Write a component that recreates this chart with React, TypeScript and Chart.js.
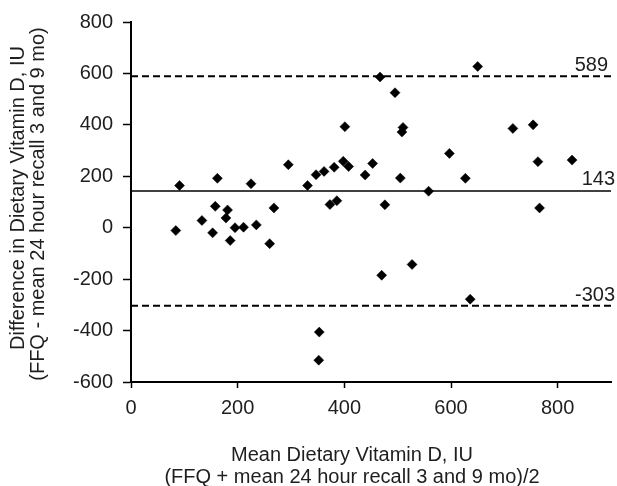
import React, { useEffect, useRef } from "react";
import { Chart, registerables } from "chart.js";

Chart.register(...registerables);

// Mean of FFQ and 24h recall (x) and their difference (y)
const meanValues = [84, 91, 133, 153, 158, 162, 178, 181, 186, 195, 211, 225, 235, 260, 268, 295, 331, 347, 352, 353, 362, 373, 381, 386, 398, 401, 408, 439, 453, 467, 470, 476, 495, 505, 508, 510, 527, 558, 597, 627, 636, 650, 716, 754, 763, 766, 827];
const diffValues = [-11, 164, 28, -20, 83, 192, 38, 69, -50, 0, 2, 171, 11, -62, 77, 245, 164, 206, -515, -406, 219, 90, 235, 105, 258, 393, 238, 205, 250, 586, -185, 89, 525, 193, 372, 390, -143, 142, 289, 192, -278, 627, 386, 400, 257, 77, 263];

const meanDifference = 143;
const upperLimit = 589;
const lowerLimit = -303;

const xTitleLines = ["Mean Dietary Vitamin D, IU", "(FFQ + mean 24 hour recall 3 and 9 mo)/2"];
const yTitleLines = ["Difference in Dietary Vitamin D, IU", "(FFQ - mean 24 hour recall 3 and 9 mo)"];

const FONT = "'Liberation Sans', Arial, sans-serif";
const TEXT = "#1e1e1e";

const textPlugin = {
  id: "textPlugin",
  afterDraw(chart: any) {
    const { ctx, chartArea, scales } = chart;
    ctx.save();
    ctx.fillStyle = TEXT;
    ctx.font = `20px ${FONT}`;
    // x title
    ctx.textAlign = "center";
    ctx.textBaseline = "middle";
    const xc = chartArea.left + 221;
    ctx.fillText(xTitleLines[0], xc, 455);
    ctx.fillText(xTitleLines[1], xc, 477);
    // y title
    const yc = (chartArea.top + chartArea.bottom) / 2;
    ctx.save();
    ctx.translate(18, yc - 4);
    ctx.rotate(-Math.PI / 2);
    ctx.fillText(yTitleLines[0], 0, 0);
    ctx.restore();
    ctx.save();
    ctx.translate(38, yc + 2);
    ctx.rotate(-Math.PI / 2);
    ctx.fillText(yTitleLines[1], 0, 0);
    ctx.restore();
    // reference line labels
    ctx.textAlign = "right";
    const y = scales.y;
    ctx.fillText(String(upperLimit), chartArea.right - 3, y.getPixelForValue(upperLimit) - 11);
    ctx.fillText(String(meanDifference), chartArea.right + 4, y.getPixelForValue(meanDifference) - 11);
    ctx.fillText(String(lowerLimit), chartArea.right + 4, y.getPixelForValue(lowerLimit) - 10);
    ctx.restore();
  },
};

export default function App() {
  const ref = useRef<HTMLCanvasElement | null>(null);
  useEffect(() => {
    if (!ref.current) return;
    const points = meanValues.map((m, i) => ({ x: m, y: diffValues[i] }));
    const hLine = (v: number) => [
      { x: 0, y: v },
      { x: 900, y: v },
    ];
    const chart = new Chart(ref.current, {
      type: "scatter",
      data: {
        datasets: [
          {
            type: "line",
            data: hLine(upperLimit),
            borderColor: "#000",
            borderWidth: 2,
            borderDash: [7, 4],
            pointRadius: 0,
            showLine: true,
          } as any,
          {
            type: "line",
            data: hLine(meanDifference),
            borderColor: "#000",
            borderWidth: 1.5,
            pointRadius: 0,
            showLine: true,
          } as any,
          {
            type: "line",
            data: hLine(lowerLimit),
            borderColor: "#000",
            borderWidth: 2,
            borderDash: [7, 4],
            pointRadius: 0,
            showLine: true,
          } as any,
          {
            data: points,
            pointStyle: "rectRot",
            pointRadius: 5,
            borderWidth: 0.5,
            backgroundColor: "#000",
            borderColor: "#000",
          },
        ],
      },
      options: {
        responsive: false,
        animation: false,
        events: [],
        layout: { padding: { top: 21, right: 6, left: 0, bottom: 0 } },
        plugins: {
          legend: { display: false },
          tooltip: { enabled: false },
        },
        scales: {
          x: {
            type: "linear",
            min: 0,
            max: 900,
            ticks: {
              stepSize: 200,
              includeBounds: false,
              font: { size: 20, family: FONT },
              color: TEXT,
              padding: 8,
              maxRotation: 0,
            },
            grid: { drawOnChartArea: false, color: "#000", tickLength: 6, tickWidth: 1.5 },
            border: { color: "#000", width: 2 },
            afterFit: (s: any) => {
              s.height = 104;
            },
          },
          y: {
            type: "linear",
            min: -600,
            max: 800,
            ticks: {
              stepSize: 200,
              font: { size: 20, family: FONT },
              color: TEXT,
              padding: 10,
            },
            grid: { drawOnChartArea: false, color: "#000", tickLength: 8, tickWidth: 1.5 },
            border: { color: "#000", width: 2 },
            afterFit: (s: any) => {
              s.width = 131;
            },
          },
        },
      },
      plugins: [textPlugin],
    });
    return () => chart.destroy();
  }, []);
  return (
    <div style={{ position: "absolute", left: 0, top: 0, width: 617, height: 486, background: "#fff" }}>
      <canvas ref={ref} width={617} height={486} />
    </div>
  );
}
